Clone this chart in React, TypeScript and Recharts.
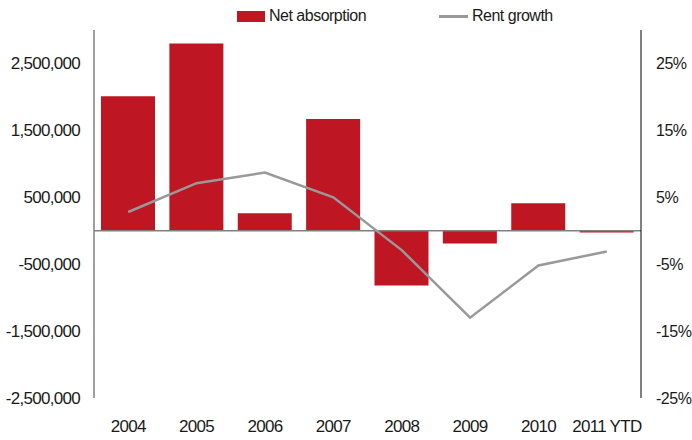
import React from "react";
import {
  ComposedChart,
  Bar,
  Line,
  XAxis,
  YAxis,
  ReferenceLine,
} from "recharts";

const categories = ["2004", "2005", "2006", "2007", "2008", "2009", "2010", "2011 YTD"];
const netAbsorption = [2010000, 2800000, 260000, 1670000, -820000, -190000, 410000, -25000];
const rentGrowth = [2.8, 7.1, 8.7, 5.0, -2.9, -13.0, -5.2, -3.1];
const leftTicks = [-2500000, -1500000, -500000, 500000, 1500000, 2500000];
const rightTicks = [-25, -15, -5, 5, 15, 25];

const data = categories.map((year, i) => ({
  year,
  absorption: netAbsorption[i],
  rent: rentGrowth[i],
}));

const FONT = "'Liberation Sans', Arial, sans-serif";
// reference uses a condensed face; squeeze a bit with letter spacing
const tickStyle = { fontSize: 17, fill: "#1a1a1a", fontFamily: FONT, letterSpacing: -0.7 };
const rightTickStyle = { fontSize: 16, fill: "#1a1a1a", fontFamily: FONT, letterSpacing: -0.5, textAnchor: "start" };

export default function App() {
  return (
    <div style={{ position: "absolute", left: 0, top: 0, width: 692, height: 440, background: "#fff", fontFamily: FONT }}>
      <ComposedChart
        width={692}
        height={440}
        data={data}
        margin={{ top: 30, right: 0, bottom: 0, left: 0 }}
      >
        <XAxis
          dataKey="year"
          axisLine={false}
          tickLine={false}
          tickSize={0}
          tickMargin={22}
          height={42}
          tick={tickStyle}
          interval={0}
        />
        <YAxis
          yAxisId="left"
          domain={[-2500000, 3000000]}
          ticks={leftTicks}
          width={94}
          tickLine={false}
          tickSize={0}
          tickMargin={14}
          axisLine={{ stroke: "#808080", strokeWidth: 1.5 }}
          tick={tickStyle}
          tickFormatter={(v: number) => v.toLocaleString("en-US")}
          allowDataOverflow
        />
        <YAxis
          yAxisId="right"
          orientation="right"
          domain={[-25, 30]}
          ticks={rightTicks}
          width={51}
          tickLine={false}
          tickSize={0}
          tickMargin={15}
          axisLine={{ stroke: "#000", strokeWidth: 1 }}
          tick={rightTickStyle}
          tickFormatter={(v: number) => `${v}%`}
          allowDataOverflow
        />
        <Bar
          yAxisId="left"
          dataKey="absorption"
          fill="#BE1622"
          barSize={54}
          isAnimationActive={false}
        />
        <ReferenceLine yAxisId="left" y={0} stroke="#808080" strokeWidth={1.5} />
        <Line
          yAxisId="right"
          type="linear"
          dataKey="rent"
          stroke="#999999"
          strokeWidth={2.5}
          dot={false}
          activeDot={false}
          isAnimationActive={false}
        />
      </ComposedChart>
      {/* legend */}
      <div style={{ position: "absolute", left: 237, top: 11, width: 28, height: 11, background: "#BE1622" }} />
      <div style={{ position: "absolute", left: 269, top: 6, fontSize: 16, letterSpacing: -0.5, lineHeight: "20px", color: "#1a1a1a", whiteSpace: "nowrap" }}>
        Net absorption
      </div>
      <div style={{ position: "absolute", left: 439, top: 15, width: 29, height: 2.5, background: "#999999" }} />
      <div style={{ position: "absolute", left: 472, top: 6, fontSize: 16, letterSpacing: -0.5, lineHeight: "20px", color: "#1a1a1a", whiteSpace: "nowrap" }}>
        Rent growth
      </div>
    </div>
  );
}
